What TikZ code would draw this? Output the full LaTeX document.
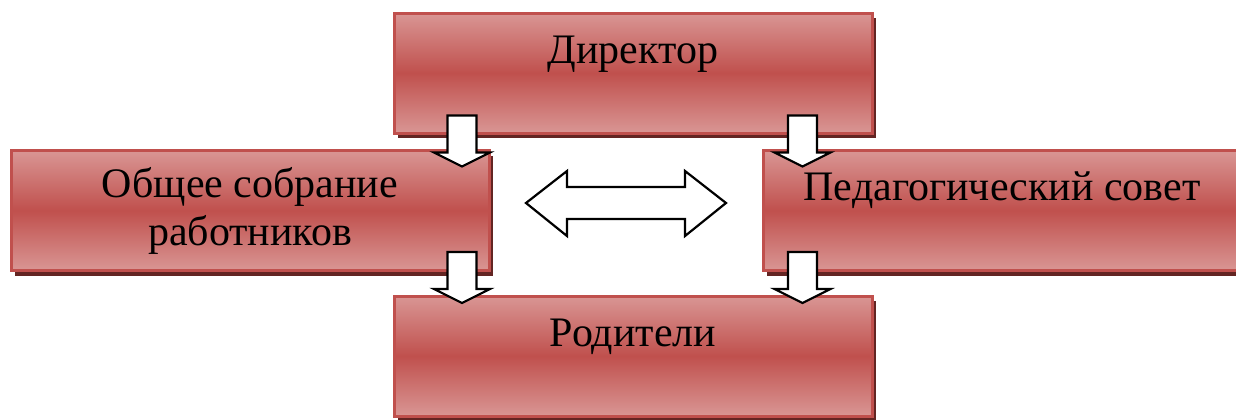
\documentclass[tikz,border=0pt]{standalone}
\usepackage{fontspec}
\setmainfont{Liberation Serif}
\usetikzlibrary{calc,shadows}
\definecolor{rlight}{RGB}{217,150,148}
\definecolor{rmid}{RGB}{192,80,77}
\definecolor{rdark}{RGB}{99,37,35}

\tikzset{
	unitbox/.style={draw=rmid, line width=1.5pt, inner sep=0pt,
		minimum width=239pt, minimum height=60pt,
		top color=rlight, bottom color=rlight, middle color=rmid,
		drop shadow={shadow xshift=2pt, shadow yshift=-2.5pt, fill=rdark, opacity=1},
		font=\fontsize{21}{24}\selectfont, align=center},
	topline/.style={text height=25pt, text depth=35pt},
	blockarrow/.style={draw=black, fill=white, line width=1.1pt, line join=miter},
	pics/blockdown/.style={code={
		\draw[blockarrow] (-14.5,0) -- (14.5,0) -- (14.5,-37) -- (28,-37)
			-- (0,-51) -- (-28,-37) -- (-14.5,-37) -- cycle;}},
	pics/blockboth/.style={code={
		\draw[blockarrow] (-100,0) -- (-59,32) -- (-59,16) -- (59,16) -- (59,32)
			-- (100,0) -- (59,-33) -- (59,-16) -- (-59,-16) -- (-59,-33) -- cycle;}}
}

\begin{document}
\begin{tikzpicture}[x=0.5pt, y=0.5pt]
		\useasboundingbox (0,0) rectangle (1236,419);

		\node[unitbox, topline] (dir) at (633,346) {Директор};
		\node[unitbox] (obsh) at (250,208.5) {Общее собрание\\работников};
		\node[unitbox, topline] (ped) at (1002,208.5) {Педагогический совет};
		\node[unitbox, topline] (rod) at (633,63) {Родители};

		% arrows between the boxes
		\coordinate (al) at ($(dir.south west)+(69.5,19)$);
		\coordinate (ar) at ($(dir.south east)+(-71,19)$);
		\pic at (al) {blockdown};
		\pic at (ar) {blockdown};
		\pic at ($(al |- obsh.south)+(0,20)$) {blockdown};
		\pic at ($(ar |- ped.south)+(0,20)$) {blockdown};

		\coordinate (link) at ($(obsh.east)!0.5!(ped.west)+(0,7.5)$);
		\pic at (link) {blockboth};

	\end{tikzpicture}
\end{document}
